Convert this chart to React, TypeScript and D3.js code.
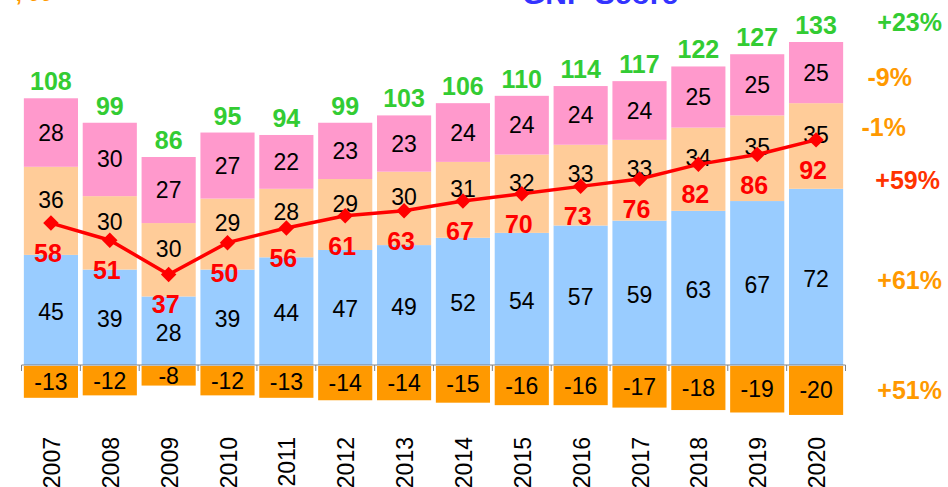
import React from 'react';
import * as d3 from 'd3';

const years = ['2007', '2008', '2009', '2010', '2011', '2012', '2013', '2014', '2015', '2016', '2017', '2018', '2019', '2020'];
const blueVals = [45, 39, 28, 39, 44, 47, 49, 52, 54, 57, 59, 63, 67, 72];
const peachVals = [36, 30, 30, 29, 28, 29, 30, 31, 32, 33, 33, 34, 35, 35];
const pinkVals = [28, 30, 27, 27, 22, 23, 23, 24, 24, 24, 24, 25, 25, 25];
const totals = [108, 99, 86, 95, 94, 99, 103, 106, 110, 114, 117, 122, 127, 133];
const negVals = [-13, -12, -8, -12, -13, -14, -14, -15, -16, -16, -17, -18, -19, -20];
const lineVals = [58, 51, 37, 50, 56, 61, 63, 67, 70, 73, 76, 82, 86, 92];
const changeLabels = ['+23%', '-9%', '-1%', '+59%', '+61%', '+51%'];

const W = 948;
const H = 487;
const FONT = 'Arial, "Liberation Sans", Helvetica, sans-serif';

export default function App() {
  const x = d3.scaleBand<string>().domain(years).range([21.5, 845.5]).paddingInner(0.08).paddingOuter(0.04);
  const y = d3.scaleLinear().domain([0, 100]).range([365, 120.3]);
  const bw = x.bandwidth();
  const cx = (i: number) => (x(years[i]) as number) + bw / 2;

  const rows = years.map((yr, i) => ({ yr, blue: blueVals[i], peach: peachVals[i], pink: pinkVals[i] }));
  const stack = d3.stack<any>().keys(['blue', 'peach', 'pink'])(rows);
  const fills: Record<string, string> = { blue: '#99ccff', peach: '#ffcc99', pink: '#ff99cc' };
  const labelShift: Record<string, number> = { blue: 2, peach: -11, pink: 0 };

  const line = d3.line<number>().x((_, i) => cx(i)).y(d => y(d));
  const marker = d3.symbol().type(d3.symbolSquare).size(120)();

  const step = x.step();
  const r0 = x.range()[0];
  const tickXs = d3.range(years.length + 1).map(i => r0 + i * step);

  const changeYs = [22, 77, 127, 180, 280, 390];
  const changeXs = [942, 912, 906, 940, 942, 942];
  const changeColors = ['#33cc33', '#ff9900', '#ff9900', '#ff3300', '#ff9900', '#ff9900'];

  return (
    <svg width={W} height={H} style={{ position: 'absolute', left: 0, top: 0, display: 'block', background: '#fff' }} fontFamily={FONT}>
      {/* title, mostly outside the frame as in the source */}
      <text x={600} y={4} textAnchor="middle" fontSize={30} fontWeight="bold" fill="#3333ff">GNP Score</text>
      <text x={34} y={1} textAnchor="middle" fontSize={22} fontWeight="bold" fill="#ff9900">, 00</text>

      {stack.map(layer => (
        <g key={layer.key}>
          {layer.map((d, i) => (
            <rect key={i} x={x(years[i])} y={y(d[1])} width={bw} height={y(d[0]) - y(d[1])} fill={fills[layer.key]} />
          ))}
        </g>
      ))}

      {negVals.map((v, i) => (
        <rect key={i} x={x(years[i])} y={y(0) + 1} width={bw} height={y(v) - y(0)} fill="#ff9900" />
      ))}

      {/* axis */}
      <line x1={r0} x2={r0 + step * years.length} y1={y(0)} y2={y(0)} stroke="#808080" strokeWidth={1} />
      {tickXs.map((t, i) => (
        <line key={i} x1={t} x2={t} y1={y(0)} y2={y(0) + 6} stroke="#808080" strokeWidth={1} />
      ))}

      {/* segment labels */}
      {stack.map(layer => (
        <g key={layer.key + 'l'}>
          {layer.map((d, i) => (
            <text key={i} x={cx(i)} y={(y(d[0]) + y(d[1])) / 2 + 8 + labelShift[layer.key]} textAnchor="middle" fontSize={23} fill="#000">
              {layer.key === 'blue' ? blueVals[i] : layer.key === 'peach' ? peachVals[i] : pinkVals[i]}
            </text>
          ))}
        </g>
      ))}

      {negVals.map((v, i) => (
        <text key={i} x={cx(i)} y={(y(0) + y(v)) / 2 + 9} textAnchor="middle" fontSize={23} fill="#000">{v}</text>
      ))}

      {/* totals */}
      {totals.map((v, i) => {
        const top = stack[2][i][1];
        return (
          <text key={i} x={cx(i)} y={y(top) - 8} textAnchor="middle" fontSize={25} fontWeight="bold" fill="#33cc33">{v}</text>
        );
      })}

      {/* red line */}
      <path d={line(lineVals) as string} fill="none" stroke="#ff0000" strokeWidth={3.5} />
      {lineVals.map((v, i) => (
        <path key={i} d={marker as string} transform={`translate(${cx(i)},${y(v)}) rotate(45)`} fill="#ff0000" />
      ))}
      {lineVals.map((v, i) => (
        <text key={i} x={cx(i) - 3} y={y(v) + 39} textAnchor="middle" fontSize={25} fontWeight="bold" fill="#ff0000">{v}</text>
      ))}

      {/* year labels */}
      {years.map((yr, i) => (
        <text key={yr} transform={`translate(${cx(i) + 9},437) rotate(-90)`} textAnchor="end" fontSize={23} fill="#000">{yr}</text>
      ))}

      {/* change annotations */}
      {changeLabels.map((c, i) => (
        <text key={c} x={changeXs[i]} y={changeYs[i] + 9} textAnchor="end" fontSize={25} fontWeight="bold" fill={changeColors[i]}>{c}</text>
      ))}
    </svg>
  );
}
